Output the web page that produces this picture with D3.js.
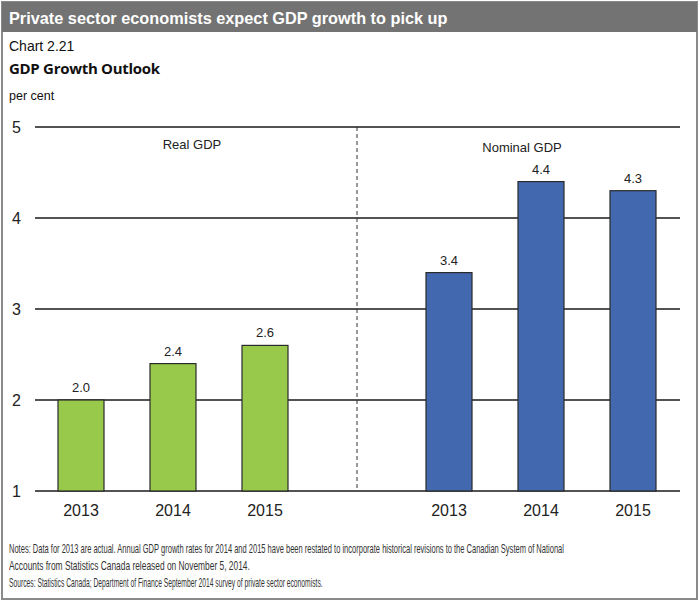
<!DOCTYPE html>
<html><head><meta charset="utf-8">
<script src="https://cdn.jsdelivr.net/npm/d3@7"></script>
<style>
html,body{margin:0;padding:0;background:#fff;}
svg{display:block;font-family:"Liberation Sans",Arial,sans-serif;}
</style></head>
<body>
<svg id="c" width="700" height="603"></svg>
<script>
const years = ["2013","2014","2015"];
const realGDP = [2.0, 2.4, 2.6];
const nominalGDP = [3.4, 4.4, 4.3];
const yTicks = [1,2,3,4,5];
const panelLabels = ["Real GDP","Nominal GDP"];
const titleText = "Private sector economists expect GDP growth to pick up";
const chartNum = "Chart 2.21";
const chartTitle = "GDP Growth Outlook";
const unitLabel = "per cent";
const notes = [
 "Notes: Data for 2013 are actual. Annual GDP growth rates for 2014 and 2015 have been restated to incorporate historical revisions to the Canadian System of National",
 "Accounts from Statistics Canada released on November 5, 2014."
];
const sources = "Sources: Statistics Canada; Department of Finance September 2014 survey of private sector economists.";

const svg = d3.select("#c");
svg.append("rect").attr("x",2).attr("y",2).attr("width",695).attr("height",597)
  .attr("fill","#fff").attr("stroke","#8a8a8a").attr("stroke-width",2);
svg.append("rect").attr("x",2).attr("y",2).attr("width",695).attr("height",30).attr("fill","#737373");
svg.append("text").attr("x",9).attr("y",24).attr("fill","#fff").attr("font-weight","bold")
  .attr("font-size",16.3).text(titleText);
svg.append("text").attr("x",9).attr("y",51).attr("font-size",14).attr("fill","#111").text(chartNum);
svg.append("text").attr("x",9).attr("y",74).attr("font-size",15).attr("font-weight","bold").attr("fill","#111")
  .attr("font-family","'Open Sans',sans-serif").attr("letter-spacing","-0.3").text(chartTitle);
svg.append("text").attr("x",9).attr("y",100).attr("font-size",12.5).attr("fill","#111").text(unitLabel);

const slots = ["r0","r1","r2","sep","n0","n1","n2"];
const x = d3.scaleBand().domain(slots).range([35,679]).paddingInner(0.5).paddingOuter(0.25);
const y = d3.scaleLinear().domain([1,5]).range([491,127]);

const g = svg.append("g");
const yAxis = d3.axisLeft(y).tickValues(yTicks).tickSize(0).tickPadding(14).tickFormat(d3.format("d"));
const ya = g.append("g").attr("transform","translate(35,0)").call(yAxis);
ya.select(".domain").remove();
ya.selectAll("text").attr("font-size",16).attr("fill","#222").attr("font-family","'Liberation Sans',Arial,sans-serif").attr("text-anchor","start").attr("x",-23);
g.selectAll("line.grid").data(yTicks).join("line").attr("class","grid")
  .attr("x1",35).attr("x2",680).attr("y1",d=>y(d)).attr("y2",d=>y(d))
  .attr("stroke","#1a1a1a").attr("stroke-width",1.3);

const sepX = x("sep") + x.bandwidth()/2;
g.append("line").attr("x1",sepX).attr("x2",sepX).attr("y1",y(5)).attr("y2",y(1))
  .attr("stroke","#333").attr("stroke-width",1).attr("stroke-dasharray","4,3");

const data = years.map((yr,i)=>({k:"r"+i, yr, v:realGDP[i], c:"#98c94a"}))
  .concat(years.map((yr,i)=>({k:"n"+i, yr, v:nominalGDP[i], c:"#4268b0"})));

g.selectAll("rect.bar").data(data).join("rect").attr("class","bar")
  .attr("x",d=>x(d.k)).attr("width",x.bandwidth())
  .attr("y",d=>y(d.v)).attr("height",d=>y(1)-y(d.v))
  .attr("fill",d=>d.c).attr("stroke","#2a2a2a").attr("stroke-width",1.2);

g.selectAll("text.val").data(data).join("text").attr("class","val")
  .attr("x",d=>x(d.k)+x.bandwidth()/2).attr("y",d=>y(d.v)-8)
  .attr("text-anchor","middle").attr("font-size",13).attr("fill","#222")
  .text(d=>d3.format(".1f")(d.v));

g.selectAll("text.yr").data(data).join("text").attr("class","yr")
  .attr("x",d=>x(d.k)+x.bandwidth()/2).attr("y",516)
  .attr("text-anchor","middle").attr("font-size",16).attr("fill","#222")
  .text(d=>d.yr);

g.append("text").attr("x",x("r1")+x.bandwidth()/2+19).attr("y",149).attr("text-anchor","middle")
  .attr("font-size",13).attr("fill","#222").text(panelLabels[0]);
g.append("text").attr("x",x("n1")+x.bandwidth()/2-19).attr("y",152).attr("text-anchor","middle")
  .attr("font-size",13).attr("fill","#222").text(panelLabels[1]);

// notes: horizontally condensed via transform to mimic a narrow font
function narrowText(str, yPos, target){
  const t = svg.append("text").attr("x",0).attr("y",0).attr("font-size",12)
    .attr("fill","#333").text(str);
  const w = t.node().getComputedTextLength();
  const s = target / w;
  t.attr("transform",`translate(9,${yPos}) scale(${s},1)`);
}
narrowText(notes[0], 553, 556);
narrowText(notes[1], 570, 241);
narrowText(sources, 587, 314);
</script>
</body></html>
